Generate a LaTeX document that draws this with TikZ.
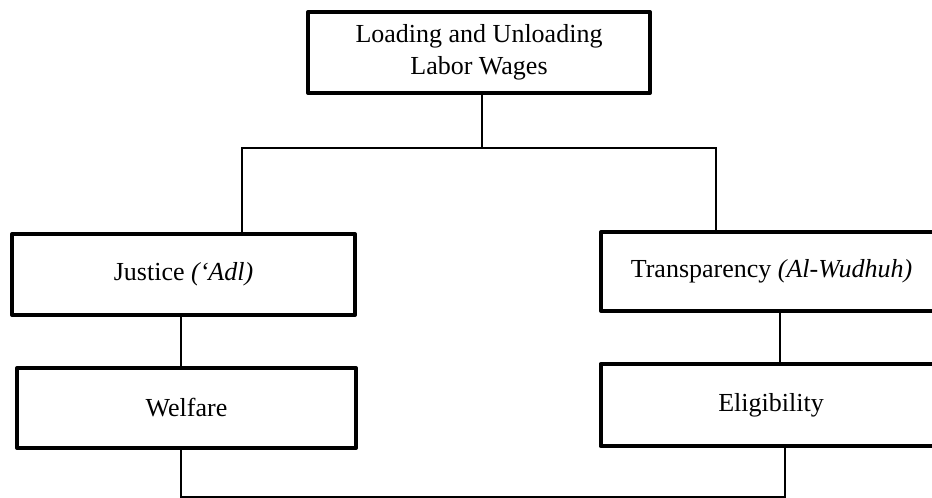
\documentclass[tikz,border=0pt]{standalone}
\usepackage{fontspec}
\setmainfont{Liberation Serif}
\usetikzlibrary{positioning}

\begin{document}
\begin{tikzpicture}[
            x=0.5pt, y=-0.5pt,
            box/.style={rectangle, draw, line width=2pt, line join=round, align=center, inner sep=0pt,
                        minimum width=171pt, minimum height=40.5pt, font=\fontsize{13}{16}\selectfont}, % thick framed box
            link/.style={line width=1pt} % plain connector
            ]
        \useasboundingbox (0,0) rectangle (932,498);

            % Main box on top
            \node[box] (top) at (479,52.5) {Loading and Unloading\\Labor Wages};

            % Left branch
            \node[box, minimum width=171.5pt] (justice) at (183.5,274.5) {Justice \textit{(`Adl)}};
            \node[box, minimum width=169.5pt, minimum height=40pt] (welfare) at (186.5,408) {Welfare};

            % Right branch, cut off at the page edge
            \node[box, minimum width=170.5pt, minimum height=39.5pt] (transp) at (771.5,271.5) {Transparency \textit{(Al-Wudhuh)}};
            \node[box, minimum width=170.5pt, minimum height=41pt] (elig) at (771,405) {Eligibility};

            % Bends of the connectors
            \coordinate (busL) at (242,148);
            \coordinate (busR) at (716,148);
            \coordinate (midR) at (780,340);
            \coordinate (botL) at (181,497);
            \coordinate (botR) at (785,497);

            \draw[link] ([xshift=1.5pt]top.south) -- ([xshift=1.5pt]top.south |- busL);
            \draw[link] (busL |- justice.north) -- (busL) -- (busR) -- (busR |- transp.north);
            \draw[link] (justice.south -| botL) -- (welfare.north -| botL);
            \draw[link] (transp.south -| midR) -- (elig.north -| midR);
            \draw[link] (welfare.south -| botL) -- (botL) -- (botR) -- (elig.south -| botR);

        \end{tikzpicture}
\end{document}
